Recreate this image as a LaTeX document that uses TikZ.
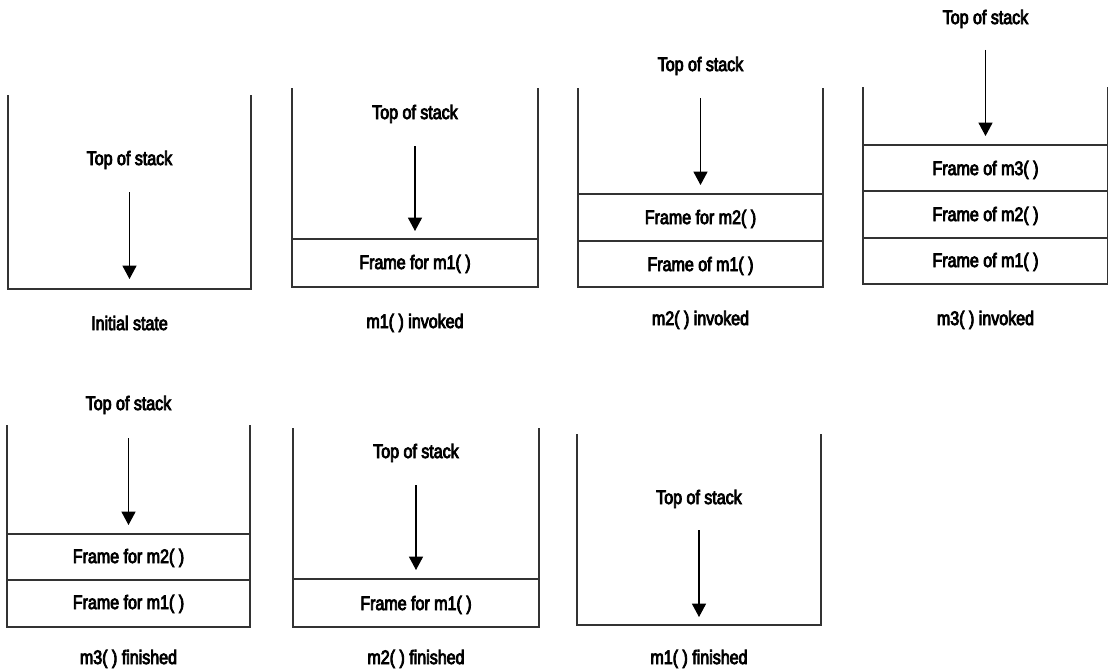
\documentclass[tikz,border=0pt]{standalone}
\usepackage{fontspec}
\setmainfont{Liberation Sans}[FakeStretch=0.82, FakeBold=4]
\usetikzlibrary{arrows.meta}

\begin{document}
\begin{tikzpicture}[
    x=0.025cm, y=-0.025cm,
    font=\fontsize{13.9}{16}\selectfont,
    wall/.style={draw=black!80, line width=1pt},
    punt/.style={-{Triangle[width=10pt, length=9.5pt]}, line width=0.75pt},
    etiq/.style={inner sep=0pt, text height=10pt, text depth=0pt},
]

% Fijamos el tamaño del dibujo
\useasboundingbox (0,0) rectangle (1108,670);

% Cada pila: paredes, texto de la cima, flecha y leyenda
\foreach \L/\R/\T/\B/\ty/\ay/\hy/\cy/\cap [count=\i] in {%
    8/251/95/289/158/192/279/323/{Initial state},
    292/538/88/287/112/146/231/321/{m1( ) invoked},
    578/823/88/287/64/98/185/318/{m2( ) invoked},
    863/1108/87/284/17/50/136/318/{m3( ) invoked},
    7/250/425/627/403/438/525/657/{m3( ) finished},
    293/539/428/627/451/485/570/657/{m2( ) finished},
    577/821/434/625/497/530/617/657/{m1( ) finished}%
}{
    \pgfmathsetmacro{\mx}{(\L+\R)/2}
    \draw[wall] (\L,\T) -- (\L,\B) -- (\R,\B) -- (\R,\T);
    \node[etiq] (top\i) at (\mx,\ty) {Top of stack};
    \coordinate (tail\i) at (\mx,\ay);
    \coordinate (tip\i) at (\mx,\hy);
    \draw[punt] (tail\i) -- (tip\i);
    \node[etiq] (cap\i) at (\mx,\cy) {\cap};
}

% Marcos apilados: línea superior y nombre del marco
\foreach \L/\R/\y/\ly/\lab [count=\j] in {%
    292/538/239/262/{Frame for m1( )},
    578/823/194/217/{Frame for m2( )},
    578/823/241/264/{Frame of m1( )},
    863/1108/145/168/{Frame of m3( )},
    863/1108/191/214/{Frame of m2( )},
    863/1108/238/260/{Frame of m1( )},
    7/250/534/556/{Frame for m2( )},
    7/250/580/602/{Frame for m1( )},
    293/539/579/603/{Frame for m1( )}%
}{
    \pgfmathsetmacro{\mx}{(\L+\R)/2}
    \draw[wall] (\L,\y) -- (\R,\y);
    \node[etiq] (frame\j) at (\mx,\ly) {\lab};
}

\end{tikzpicture}
\end{document}
